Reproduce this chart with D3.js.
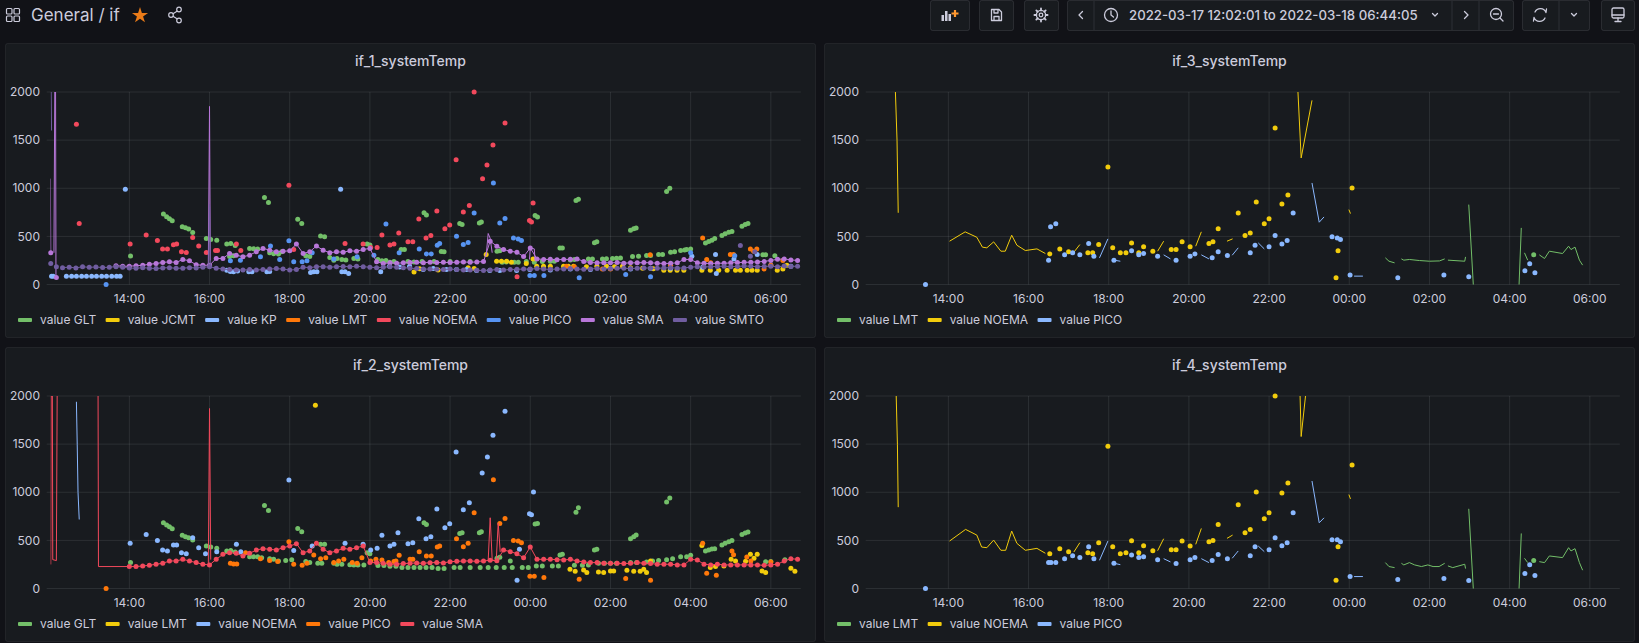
<!DOCTYPE html>
<html>
<head>
<meta charset="utf-8">
<script src="https://cdn.jsdelivr.net/npm/d3@7"></script>
<style>
  body { margin: 0; background: #111217; overflow: hidden; }
  svg { display: block; font-family: Inter, "Open Sans", Helvetica, Arial, sans-serif; }
</style>
</head>
<body>
<svg id="chart" width="1639" height="643"></svg>
<script>
// Times are decimal hours counted from 2022-03-17 00:00 (25.5 = 01:30 on the 18th)
const timeFrom = "2022-03-17 12:02:01";
const timeTo = "2022-03-18 06:44:05";
const yTicks = [0, 500, 1000, 1500, 2000];

// ---------- if_1_systemTemp ----------
const p1GltDots = [[14.03,295],[14.85,732],[14.93,704],[15.0,684],[15.07,663],[15.32,600],[15.4,590],[15.48,576],[15.58,541],
  [15.92,479],[16.03,468],[16.18,460],[16.43,420],[16.53,427],[16.64,406],[17.0,375],[17.1,372],[17.2,368],[17.37,905],[17.47,853],
  [17.72,316],[18.2,677],[18.3,635],[18.77,503],[18.87,496],[19.1,253],[19.18,270],[19.93,420],[20.0,410],[20.3,246],[20.78,363],
  [20.86,363],[21.35,745],[21.41,723],[21.78,343],[21.85,340],[22.24,633],[22.3,623],[22.73,640],[22.78,650],[23.17,346],[23.24,350],
  [24.12,716],[24.18,702],[24.74,380],[24.8,380],[25.14,872],[25.2,886],[25.6,433],[25.66,443],[26.5,564],[26.58,578],[26.64,588],
  [27.4,965],[27.48,1000],[27.9,363],[28.0,370],[28.37,432],[28.45,446],[28.53,460],[28.6,477],[28.78,508],[28.86,526],[28.95,543],
  [29.03,550],[29.28,605],[29.36,623],[29.43,633],[29.87,308],
  [16.5,290],[16.6,300],[17.5,330],[17.6,320],[17.8,340],[18.4,300],[18.5,290],[19.0,280],[19.3,260],[19.4,255],[19.6,270],[19.7,265],
  [20.2,260],[20.4,250],[20.5,232],[20.6,240],[20.95,240],[21.1,235],[21.3,240],[21.6,238],[22.0,240],[22.5,240],[23.3,232],[23.4,235],
  [23.6,232],[23.7,232],[23.9,240],[24.1,232],[24.3,240],[24.5,242],[24.6,242],[25.0,255],[25.1,260],[25.45,266],[25.55,266],[25.8,266],
  [25.9,268],[26.05,270],[26.15,273],[26.25,275],[26.55,290],[26.7,294],[26.9,301],[27.0,301],[27.2,311],[27.3,311],[27.5,335],[27.6,340],
  [27.75,353],[27.85,358],[29.8,310],[30.1,300]];
const p1JcmtDots = [[21.1,131],[21.24,163],[21.7,150],[22.45,173],[22.6,165],[22.9,311],[23.16,242],[23.28,242],[23.41,242],[23.53,232],
  [23.9,218],[24.07,266],[24.16,190],[24.33,190],[24.5,190],[24.83,190],[24.95,190],[25.08,190],[25.4,185],[25.66,190],[25.9,190],
  [26.1,185],[26.3,190],[26.5,175],[26.8,170],[27.07,163],[27.33,149],[27.49,149],[27.66,149],[27.83,149],[28.28,149],[28.49,149],
  [28.7,149],[28.91,149],[29.12,149],[29.24,149],[29.41,149],[29.53,149],[29.66,149],[30.16,149],[30.3,160],[30.4,200]];
const p1KpDots = [[12.06,87],[12.1,87],[12.43,85],[12.56,87],[12.68,87],[12.81,87],[12.93,87],[13.06,87],[13.18,87],[13.31,87],
  [13.43,87],[13.56,87],[13.68,87],[13.77,87],[13.9,990],[16.43,149],[16.52,135],[16.6,132],[16.7,140],[16.98,132],[17.06,132],
  [17.43,132],[17.5,135],[18.52,125],[18.6,132],[18.68,132],[19.27,990],[19.3,132],[19.38,132],[19.47,114],[20.27,132],[20.49,190],
  [20.74,183],[20.99,190],[21.33,156],[21.58,166],[21.91,156],[22.16,156],[22.41,156],[22.66,145],[22.99,145],[23.24,145],[23.66,145],
  [23.99,156],[24.5,150],[25.0,160],[25.5,155],[26.0,165],[26.5,160],[27.0,170],[27.5,170],[28.03,294],[28.3,180],[28.62,311],
  [28.64,114],[29.08,266],[29.66,311],[30.0,200],[30.5,190]];
const p1LmtDots = [[24.9,190],[25.1,185],[25.8,160],[26.0,160],[26.99,308],[27.5,200],[28.3,484],[28.4,260],[28.5,225],[28.99,311],
  [29.07,311],[29.49,370],[29.57,346],[29.65,370],[29.83,160],[30.0,200],[30.3,250]];
const p1NoemaDots = [[12.68,1665],[12.75,635],[14.02,420],[14.42,513],[14.7,458],[14.83,368],[14.95,368],[15.1,413],[15.18,420],
  [15.3,340],[15.42,333],[15.58,489],[15.73,399],[15.92,333],[16.15,354],[16.2,354],[16.67,420],[16.78,354],[17.98,1030],[18.1,364],
  [19.38,427],[19.83,420],[20.02,385],[20.18,385],[20.3,513],[20.5,410],[20.6,420],[20.72,536],[20.95,443],[21.07,443],[21.22,681],
  [21.4,484],[21.52,508],[21.67,764],[21.87,578],[21.99,619],[22.15,1297],[22.33,754],[22.48,820],[22.6,2000],[22.81,1100],[22.92,1242],
  [23.07,1450],[23.37,1678],[23.67,80],[23.98,664],[24.03,650],[24.07,848]];
const p1PicoDots = [[13.42,0],[16.52,246],[16.77,253],[17.27,288],[17.52,399],[17.75,260],[17.98,455],[18.1,236],[18.31,236],
  [18.43,246],[18.56,330],[19.1,264],[19.68,288],[20.1,305],[20.4,628],[20.73,330],[21.23,370],[21.41,318],[21.53,318],[21.68,408],
  [21.74,425],[22.16,502],[22.33,415],[22.45,436],[22.6,744],[23.08,1055],[23.24,640],[23.37,685],[23.58,484],[23.7,474],[23.78,457],
  [23.99,93],[24.1,93],[24.34,93],[25.22,69],[26.38,104],[27.0,80],[28.0,330],[29.1,300]];
const p1SmaDots = [[12.04,330],[12.18,73]];
const p1SmaLines = [[[12.03,1100],[12.04,330]], [[12.12,330],[12.14,2000],[12.16,2000],[12.17,75]],
  [[15.97,200],[16.0,1850],[16.02,250]], [[22.9,300],[22.95,530],[23.0,480],[23.05,330]], [[23.98,260],[24.0,380],[24.1,370],[24.12,250]]];
// SMA: one value every 10 minutes from 13:40 to 06:40
const p1SmaStreak = { start: 13 + 40 / 60, step: 10, values: [
  195,190, 190,195,200,210,218,229, 236,229,260,246,205,200, 200,270,270,323,305,288, 305,340,375,357,340,345,
  350,420,323,340,400,357, 330,340,335,350,345,364, 375,236,218,225,222,225, 228,230,225,232,228,230,
  228,232,235,230,235,238, 450,398,363,346,335,290, 380,266,260,262,258,260, 262,266,240,228,225,225,
  225,228,222,225,225,228, 225,222,218,220,225,260, 260,225,220,218,222,220, 225,228,230,232,235,240,
  250,262,266,255,250] };
const p1SmtoDots = [[12.04,218],[12.18,184],[29.24,405],[29.49,294],[29.6,340]];
const p1SmtoLines = [[[12.05,2000],[12.06,1600]], [[15.98,180],[16.0,830],[16.02,190]]];
// SMTO: one value every 10 minutes from 12:20 to 06:40
const p1SmtoStreak = { start: 12 + 20 / 60, step: 10, values: [
  175,180,172,185,178,182,176,180,185,178, 172,168,175,170,165,172,175,168,170,175,172,178,
  185,170,160,155,150,150,155,150,155,160,165,160, 150,155,180,175,185,185,180,185,188,185,190,185,
  180,175,180,185,180,175,170,165,160,160,158,156, 160,155,150,150,148,145,150,155,150,155,158,160,
  160,165,160,158,160,162,165,160,158,162,165,160, 165,170,168,165,170,172,170,168,172,175,170,172,
  180,185,182,185,188,190,185,188,192,190,185,188, 190,185,192,188,190] };

// ---------- if_2_systemTemp ----------
const p2GltDots = [[14.03,269],[14.85,683],[14.93,659],[15.0,641],[15.07,620],[15.32,552],[15.4,538],[15.48,527],[15.58,503],
  [15.92,441],[16.03,431],[16.18,417],[16.43,390],[16.53,396],[16.64,379],[17.0,331],[17.1,331],[17.37,862],[17.47,810],[17.72,286],
  [18.2,624],[18.3,590],[18.77,459],[18.87,459],[19.1,262],[19.18,252],[19.93,372],[20.0,360],[21.35,683],[21.41,665],[22.24,572],
  [22.3,579],[22.73,579],[22.78,590],[23.17,314],[23.24,324],[23.5,286],[24.12,669],[24.18,676],[24.74,348],[24.8,355],[25.14,793],
  [25.2,838],[25.6,400],[25.66,407],[26.5,517],[26.58,538],[26.64,555],[27.4,900],[27.48,941],[27.9,331],[28.0,345],[28.37,390],
  [28.45,400],[28.53,410],[28.6,414],[28.78,452],[28.86,470],[28.95,486],[29.03,500],[29.28,562],[29.36,576],[29.43,586],[29.87,279],
  [17.2,330],[17.3,320],[17.5,310],[17.6,305],[17.9,290],[18.05,300],[18.4,280],[18.5,270],[18.7,262],[18.8,262],[19.3,252],
  [19.5,248],[19.6,245],[19.7,245],[19.85,245],[20.2,238],[20.35,238],[20.5,230],[20.65,230],[20.8,217],[20.95,217],[21.1,217],
  [21.25,217],[21.4,217],[21.55,217],[21.7,207],[21.85,207],[22.1,217],[22.25,217],[22.5,217],[22.75,217],[22.95,217],[23.15,217],
  [23.35,217],[23.55,217],[23.8,217],[23.95,217],[24.15,234],[24.3,234],[24.55,234],[24.7,234],[25.1,241],[25.3,241],[25.45,245],
  [25.7,262],[25.85,262],[26.0,262],[26.15,262],[26.5,269],[26.65,269],[26.9,276],[27.05,286],[27.2,290],[27.4,300],[27.55,310],
  [27.75,330],[30.0,280],[30.35,300]];
const p2LmtDots = [[18.64,1903],[24.99,200],[25.12,179],[25.33,193],[25.41,165],[25.7,172],[25.83,165],[26.0,183],[26.08,183],
  [26.41,190],[26.58,179],[26.74,179],[26.83,200],[26.9,165],[27.0,286],[28.28,448],[28.49,217],[28.62,228],[28.83,234],[29.01,303],
  [29.12,286],[29.37,283],[29.49,355],[29.58,314],[29.66,355],[29.78,183],[29.87,165],[30.5,210],[30.6,180]];
const p2NoemaDots = [[14.02,469],[14.42,562],[14.7,500],[14.83,400],[14.95,390],[15.1,452],[15.18,452],[15.3,372],[15.42,362],
  [15.58,527],[15.73,424],[15.9,362],[16.18,383],[16.67,459],[16.78,383],[17.98,1128],[18.1,396],[18.56,441],[19.38,469],[19.83,459],
  [20.02,400],[20.18,417],[20.3,552],[20.5,441],[20.6,459],[20.7,579],[20.95,465],[21.07,476],[21.22,724],[21.4,517],[21.52,538],
  [21.67,827],[21.87,631],[21.99,672],[22.15,1417],[22.33,817],[22.48,890],[22.8,1200],[22.93,1365],[23.07,1593],[23.37,1841],
  [23.67,86],[23.73,407],[23.98,776],[24.03,765],[24.08,1003]];
const p2NoemaLines = [[[12.68,1940],[12.7,1500],[12.72,1000],[12.75,717]]];
const p2PicoDots = [[13.42,0],[16.52,262],[16.6,255],[16.68,255],[16.9,372],[17.27,310],[17.5,290],[17.7,280],[17.98,486],[18.1,252],
  [18.31,241],[18.43,262],[18.6,348],[18.77,310],[18.9,320],[19.1,269],[19.22,286],[19.35,303],[19.56,269],[19.68,262],[19.8,320],
  [20.02,286],[20.15,303],[20.3,296],[20.47,269],[20.6,280],[20.65,286],[20.73,345],[21.0,303],[21.07,303],[21.23,383],[21.41,338],
  [21.53,338],[21.68,431],[21.74,441],[22.16,517],[22.33,434],[22.45,469],[22.6,786],[23.08,1131],[23.24,676],[23.37,728],[23.58,500],
  [23.7,493],[23.78,476],[23.99,128],[24.1,128],[24.34,114],[25.22,97],[26.38,103],[27.0,86],[28.3,469],[28.4,159],[28.64,138],
  [29.03,390],[29.07,350],[29.4,326],[29.5,286],[30.0,276]];
const p2SmaLines = [[[12.04,250],[12.05,2000],[12.08,2000],[12.09,300],[12.18,290],[12.2,2000]],
  [[13.22,2000],[13.23,228],[14.0,228]], [[15.97,245],[16.0,1870],[16.03,300]],
  [[22.95,290],[23.0,735],[23.05,300],[23.15,280],[23.2,680],[23.25,380]]];
// SMA: one value every 10 minutes from 14:00 to 06:40
const p2SmaStreak = { start: 14, step: 10, values: [
  228,228,234,241,252,262, 286,286,303,286,269,252, 245,303,355,372,365,338, 365,400,414,407,400,424,
  441,465,372,390,469,407, 372,390,417,407,424,441, 269,269,262,252,252,259, 262,265,262,268,270,265,
  279,282,286,286,282,286, 293,288,400,383,362,320, 431,303,303,303,300,296, 303,286,276,269,269,262,
  262,262,259,262,269,262, 259,252,252,252,245,245, 303,296,252,245,252,245, 245,245,245,245,245,241,
  245,252,286,310,303] };

// ---------- if_3_systemTemp ----------
const p3LmtLines = [[[24.9,277],[24.99,242],[25.13,225]],
  [[25.3,266],[25.36,253],[25.5,260],[25.75,249],[26.0,242],[26.25,245],[26.38,266]],
  [[26.46,253],[26.88,242],[26.9,287]], [[26.98,830],[27.1,-50]], [[28.23,-50],[28.29,588]], [[28.37,329],[28.45,253]],
  [[28.74,308],[28.87,270],[28.99,346],[29.32,322],[29.47,398],[29.53,363],[29.63,388],[29.74,253],[29.82,201]]];
const p3LmtDots = [[28.6,308]];
const p3NoemaLines = [[[12.68,2000],[12.72,1500],[12.75,745]],
  [[14.03,450],[14.42,547],[14.71,491],[14.85,388],[14.96,381],[15.13,443],[15.31,346],[15.42,346],[15.58,512],[15.71,408],
   [15.92,353],[16.21,370],[16.42,322]],
  [[17.13,335],[17.28,415]], [[19.22,346],[19.37,450]], [[20.17,398],[20.31,547]], [[20.95,450],[21.09,474]],
  [[22.72,2000],[22.8,1315],[23.07,1913]], [[23.99,778],[24.03,737]]];
const p3NoemaDots = [[16.53,318],[16.78,370],[17.0,339],[17.48,329],[17.6,329],[17.75,415],[17.98,1221],[18.1,381],[18.29,329],
  [18.43,329],[18.57,432],[18.75,329],[18.87,391],[19.1,346],[19.56,363],[19.68,363],[19.83,443],[20.03,391],[20.5,425],[20.6,443],
  [20.73,578],[21.23,744],[21.4,509],[21.53,536],[21.68,858],[21.88,630],[22.0,682],[22.15,1626],[22.32,837],[22.47,931],[23.67,69],
  [23.72,350],[24.07,1003]];
const p3PicoLines = [[[17.77,277],[17.98,474]], [[18.13,253],[18.29,242]], [[19.37,308],[19.54,266]], [[20.31,308],[20.5,266]],
  [[21.08,304],[21.23,381]], [[21.73,432],[21.88,370]], [[23.07,1055],[23.25,647],[23.37,702]], [[24.12,87],[24.34,87]]];
const p3PicoDots = [[13.43,0],[16.5,253],[16.55,599],[16.68,630],[16.9,308],[17.1,329],[17.28,308],[17.5,425],[17.63,294],
  [18.13,253],[18.57,350],[18.75,308],[18.87,322],[19.22,294],[19.68,253],[20.03,294],[20.15,318],[20.58,277],[20.73,339],
  [20.96,301],[21.53,329],[21.65,408],[22.0,391],[22.15,509],[22.32,422],[22.45,457],[22.6,744],[23.57,495],[23.7,484],[23.78,467],
  [24.02,100],[25.21,69],[26.36,100],[26.98,80],[28.38,142],[28.5,215],[28.63,121]];

// ---------- if_4_systemTemp ----------
const p4LmtLines = [[[24.9,269],[24.99,228],[25.13,217]],
  [[25.3,262],[25.36,245],[25.5,269],[25.63,245],[25.8,228],[25.96,245],[26.09,228],[26.24,228],[26.38,262]],
  [[26.46,235],[26.58,217],[26.88,252],[26.9,207]], [[26.98,828],[27.1,-50]], [[28.23,-50],[28.29,572]], [[28.37,314],[28.45,269]],
  [[28.74,279],[28.87,269],[28.99,338],[29.32,321],[29.47,424],[29.53,390],[29.63,414],[29.74,269],[29.82,190]]];
const p4LmtDots = [[28.6,290]];
const p4NoemaLines = [[[12.7,2000],[12.73,1500],[12.75,845]],
  [[14.03,493],[14.43,614],[14.71,555],[14.83,431],[14.96,424],[15.13,503],[15.31,397],[15.43,397],[15.58,597],[15.71,469],
   [15.92,397],[16.21,417],[16.42,366]],
  [[17.13,379],[17.28,476]], [[19.22,393],[19.37,517]], [[20.17,459],[20.31,624]], [[20.95,521],[21.09,555]],
  [[22.76,2200],[22.8,1579],[22.96,2200]], [[23.99,976],[24.03,931]]];
const p4NoemaDots = [[16.53,362],[16.78,414],[17.0,383],[17.48,372],[17.6,362],[17.75,476],[17.98,1479],[18.1,434],[18.29,362],
  [18.43,372],[18.57,497],[18.75,372],[18.87,445],[19.1,393],[19.56,403],[19.68,403],[19.83,493],[20.03,441],[20.5,486],[20.6,500],
  [20.73,665],[21.23,869],[21.4,579],[21.53,614],[21.68,1003],[21.88,724],[22.0,786],[22.15,2000],[22.32,993],[22.47,1096],[23.67,86],
  [23.72,434],[24.07,1283]];
const p4PicoLines = [[[17.77,293],[17.98,493]], [[18.13,262],[18.29,248]], [[19.37,310],[19.54,276]], [[20.31,310],[20.5,269]],
  [[21.08,314],[21.23,390]], [[21.73,441],[21.88,383]], [[23.07,1117],[23.25,683],[23.37,734]], [[24.12,124],[24.34,124]]];
const p4PicoDots = [[13.43,0],[16.5,269],[16.56,269],[16.68,269],[16.9,310],[17.1,341],[17.28,321],[17.5,434],[17.63,310],
  [18.13,262],[18.57,348],[18.75,321],[18.87,331],[19.22,300],[19.68,259],[20.03,300],[20.15,321],[20.58,290],[20.73,352],
  [20.96,310],[21.53,341],[21.65,434],[22.0,403],[22.15,528],[22.32,445],[22.45,476],[22.6,786],[23.57,507],[23.7,507],[23.78,486],
  [24.02,124],[25.21,93],[26.36,103],[26.98,83],[28.38,155],[28.5,248],[28.63,134]];

// grafana classic palette
const GREEN = "#73BF69", YELLOW = "#F2CC0C", LIGHTBLUE = "#8AB8FF", ORANGE = "#FF780A",
      RED = "#F2495C", BLUE = "#5794F2", PURPLE = "#B877D9", DARKPURPLE = "#705DA0";

const panels = [
  { x: 5, y: 43, title: "if_1_systemTemp", series: [
    { name: "value GLT", color: GREEN, dots: p1GltDots },
    { name: "value JCMT", color: YELLOW, dots: p1JcmtDots },
    { name: "value KP", color: LIGHTBLUE, dots: p1KpDots },
    { name: "value LMT", color: ORANGE, dots: p1LmtDots },
    { name: "value NOEMA", color: RED, dots: p1NoemaDots },
    { name: "value PICO", color: BLUE, dots: p1PicoDots },
    { name: "value SMA", color: PURPLE, dots: p1SmaDots, lines: p1SmaLines, streak: p1SmaStreak },
    { name: "value SMTO", color: DARKPURPLE, dots: p1SmtoDots, lines: p1SmtoLines, streak: p1SmtoStreak }
  ]},
  { x: 5, y: 347, title: "if_2_systemTemp", series: [
    { name: "value GLT", color: GREEN, dots: p2GltDots },
    { name: "value LMT", color: YELLOW, dots: p2LmtDots },
    { name: "value NOEMA", color: LIGHTBLUE, dots: p2NoemaDots, lines: p2NoemaLines },
    { name: "value PICO", color: ORANGE, dots: p2PicoDots },
    { name: "value SMA", color: RED, lines: p2SmaLines, streak: p2SmaStreak }
  ]},
  { x: 824, y: 43, title: "if_3_systemTemp", series: [
    { name: "value LMT", color: GREEN, dots: p3LmtDots, lines: p3LmtLines },
    { name: "value NOEMA", color: YELLOW, dots: p3NoemaDots, lines: p3NoemaLines },
    { name: "value PICO", color: LIGHTBLUE, dots: p3PicoDots, lines: p3PicoLines }
  ]},
  { x: 824, y: 347, title: "if_4_systemTemp", series: [
    { name: "value LMT", color: GREEN, dots: p4LmtDots, lines: p4LmtLines },
    { name: "value NOEMA", color: YELLOW, dots: p4NoemaDots, lines: p4NoemaLines },
    { name: "value PICO", color: LIGHTBLUE, dots: p4PicoDots, lines: p4PicoLines }
  ]}
];

const svg = d3.select("#chart");
const TEXT = "#ccccdc";
const GRID = "rgba(240,250,255,0.09)";
const parseT = d3.timeParse("%Y-%m-%d %H:%M:%S");
const day0 = new Date(2022, 2, 17, 0, 0, 0);
const toDate = h => new Date(day0.getTime() + h * 3600000);

function streakPairs(s) {
  return s.values.map((v, i) => [s.start + i * s.step / 60, v]);
}

// ---------- top bar ----------
const tb = svg.append("g");
[[6.5, 8.5], [14, 8.5], [6.5, 16], [14, 16]].forEach(([x, y]) =>
  tb.append("rect").attr("x", x).attr("y", y).attr("width", 5.5).attr("height", 5.5).attr("rx", 1)
    .attr("fill", "none").attr("stroke", TEXT).attr("stroke-width", 1.2));
tb.append("text").attr("x", 31).attr("y", 15).attr("dy", "0.35em")
  .attr("font-size", 17).attr("fill", TEXT).text("General / if");
tb.append("path").attr("d", d3.symbol(d3.symbolStar, 80)()).attr("transform", "translate(140,15.5)").attr("fill", "#EB7B18");
const share = tb.append("g").attr("stroke", TEXT).attr("stroke-width", 1.2).attr("fill", "none");
share.append("path").attr("d", "M171,15 L179,10 M171,15 L179,20");
[[179, 9.5], [171, 15], [179, 20.5]].forEach(([x, y]) =>
  share.append("circle").attr("cx", x).attr("cy", y).attr("r", 2.3).attr("fill", "#111217"));

function button(x, w) {
  tb.append("rect").attr("x", x + 0.5).attr("y", 0.5).attr("width", w - 1).attr("height", 30).attr("rx", 2)
    .attr("fill", "#181b1f").attr("stroke", "rgba(204,204,220,0.12)");
}
function sep(x) {
  tb.append("line").attr("x1", x).attr("x2", x).attr("y1", 1).attr("y2", 30).attr("stroke", "rgba(204,204,220,0.12)");
}
button(930, 40); button(979, 35); button(1024, 35); button(1067, 447); button(1522, 68); button(1601, 34);
sep(1094); sep(1452); sep(1479); sep(1559);
const icon = tb.append("g").attr("stroke", TEXT).attr("stroke-width", 1.3).attr("fill", "none")
  .attr("stroke-linecap", "round").attr("stroke-linejoin", "round");
// add panel
[[941.5, 6], [945, 10], [948.5, 7]].forEach(([x, h]) =>
  tb.append("rect").attr("x", x).attr("y", 21 - h).attr("width", 2.5).attr("height", h).attr("fill", TEXT));
tb.append("path").attr("d", "M955,10 V17 M951.5,13.5 H958.5").attr("stroke", "#FF9830").attr("stroke-width", 2.2);
// save
icon.append("path").attr("d", "M991.5,9.5 H999 L1001.5,12 V20.5 H991.5 Z M994,9.5 V13 H998 V9.5 M994,20.5 V16.5 H999 V20.5");
// settings
icon.append("circle").attr("cx", 1041).attr("cy", 15).attr("r", 4.6);
icon.append("circle").attr("cx", 1041).attr("cy", 15).attr("r", 1.8);
d3.range(8).forEach(i => {
  const a = i * Math.PI / 4;
  icon.append("line").attr("x1", 1041 + 4.6 * Math.cos(a)).attr("y1", 15 + 4.6 * Math.sin(a))
    .attr("x2", 1041 + 6.6 * Math.cos(a)).attr("y2", 15 + 6.6 * Math.sin(a)).attr("stroke-width", 1.8);
});
// time range
icon.append("path").attr("d", "M1082.5,11.5 L1079,15 L1082.5,18.5");
icon.append("circle").attr("cx", 1111).attr("cy", 15).attr("r", 6.5);
icon.append("path").attr("d", "M1111,11 V15 L1113.5,17");
const tr = tb.append("text").attr("x", 1129).attr("y", 15).attr("dy", "0.35em").attr("font-size", 14)
  .attr("font-weight", 500).attr("fill", TEXT).text(`${timeFrom} to ${timeTo}`);
const trw = tr.node().getComputedTextLength();
if (trw > 289) tr.attr("font-size", 14 * 289 / trw);
icon.append("path").attr("d", "M1432.5,13.5 L1435,16 L1437.5,13.5");
icon.append("path").attr("d", "M1464.5,11.5 L1468,15 L1464.5,18.5");
icon.append("circle").attr("cx", 1496).attr("cy", 14).attr("r", 5.5);
icon.append("path").attr("d", "M1500,18 L1503,21 M1493.5,14 H1498.5");
// refresh
icon.append("path").attr("d", "M1535,12 A6,6 0 0 1 1546,12.5 M1546,12.5 L1546.5,9 M1545,18 A6,6 0 0 1 1534,17.5 M1534,17.5 L1533.5,21");
icon.append("path").attr("d", "M1571.5,13.5 L1574,16 L1576.5,13.5");
// tv mode
icon.append("rect").attr("x", 1612).attr("y", 8).attr("width", 12).attr("height", 10).attr("rx", 1.5);
icon.append("path").attr("d", "M1612,15 H1624 M1615,21.5 H1621 M1618,18 V21.5");

// ---------- panels ----------
const PW = 811, PH = 295;
const plotL = 45.5, plotR = 795.3, plotT = 49, plotB = 241.5, gridL = 41.7;

panels.forEach((p, pi) => {
  const g = svg.append("g").attr("transform", `translate(${p.x},${p.y})`);
  g.append("rect").attr("x", 0.5).attr("y", 0.5).attr("width", PW - 1).attr("height", PH - 1).attr("rx", 2)
    .attr("fill", "#181b1f").attr("stroke", "rgba(204,204,220,0.08)");
  g.append("text").attr("x", PW / 2).attr("y", 18).attr("dy", "0.35em").attr("text-anchor", "middle")
    .attr("font-size", 14).attr("font-weight", 500).attr("fill", TEXT).text(p.title);

  const x = d3.scaleTime().domain([parseT(timeFrom), parseT(timeTo)]).range([plotL, plotR]);
  const y = d3.scaleLinear().domain([0, 2000]).range([plotB, plotT]);
  const xTicks = x.ticks(d3.timeHour.every(2));

  const grid = g.append("g");
  yTicks.forEach(v => {
    grid.append("line").attr("x1", gridL).attr("x2", plotR + 0.5).attr("y1", y(v)).attr("y2", y(v)).attr("stroke", GRID);
    grid.append("text").attr("x", 35).attr("y", y(v)).attr("dy", "0.35em").attr("text-anchor", "end")
      .attr("font-size", 12).attr("fill", TEXT).text(v);
  });
  xTicks.forEach(t => {
    grid.append("line").attr("x1", x(t)).attr("x2", x(t)).attr("y1", plotT).attr("y2", plotB).attr("stroke", GRID);
    grid.append("text").attr("x", x(t)).attr("y", 256).attr("dy", "0.35em").attr("text-anchor", "middle")
      .attr("font-size", 12).attr("fill", TEXT).text(d3.timeFormat("%H:%M")(t));
  });

  const clipId = "clip" + pi;
  g.append("clipPath").attr("id", clipId).append("rect")
    .attr("x", plotL).attr("y", plotT).attr("width", plotR - plotL).attr("height", plotB - plotT);

  const line = d3.line().x(d => x(toDate(d[0]))).y(d => y(d[1]));
  const plot = g.append("g");
  p.series.forEach(s => {
    const sg = plot.append("g");
    const lg = sg.append("g").attr("clip-path", `url(#${clipId})`);
    (s.lines || []).forEach(l => lg.append("path").datum(l).attr("d", line)
      .attr("fill", "none").attr("stroke", s.color).attr("stroke-width", 1));
    let pts = (s.dots || []).slice();
    if (s.streak) {
      const sp = streakPairs(s.streak);
      lg.append("path").datum(sp).attr("d", line).attr("fill", "none").attr("stroke", s.color).attr("stroke-width", 1);
      pts = pts.concat(sp);
    }
    sg.selectAll("circle").data(pts).join("circle")
      .attr("cx", d => x(toDate(d[0]))).attr("cy", d => y(d[1])).attr("r", 2.5).attr("fill", s.color);
  });

  // legend
  let lx = 13;
  p.series.forEach(s => {
    g.append("rect").attr("x", lx).attr("y", 275).attr("width", 14).attr("height", 4).attr("rx", 1).attr("fill", s.color);
    const t = g.append("text").attr("x", lx + 22).attr("y", 277).attr("dy", "0.35em")
      .attr("font-size", 12).attr("fill", TEXT).text(s.name);
    lx += 22 + t.node().getComputedTextLength() + 9.5;
  });
});
</script>
</body>
</html>
